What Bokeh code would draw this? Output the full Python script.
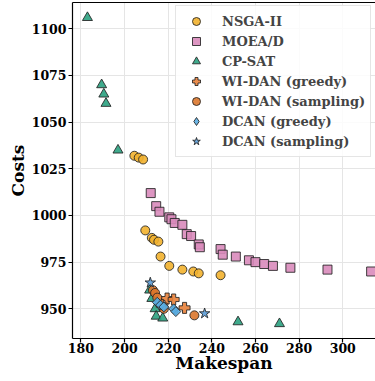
import numpy as np
from bokeh.plotting import figure
from bokeh.models import Range1d, SingleIntervalTicker, LinearAxis, FixedTicker, Legend, LegendItem
from bokeh.embed import file_html
from bokeh.resources import INLINE

# ---- data ----
nsga_x = [204.5, 206.5, 208.5, 209.5, 212.5, 213.5, 215.5, 216.5, 220.5, 226.5, 231.5, 234, 244]
nsga_y = [1032, 1031, 1030, 992, 988, 987, 986, 978, 973, 971, 970, 969, 968]

moead_x = [212, 214.5, 216, 220.5, 221.5, 223, 226.5, 228.5, 230.5, 234, 234.5, 244, 245,
           251, 257, 260, 264, 268, 276, 293, 313]
moead_y = [1012, 1005, 1002, 999, 998, 996, 995, 990, 989, 984.5, 983, 982, 979,
           978, 976, 975, 974, 973, 972, 971, 970]

cpsat_x = [183, 189.5, 190.5, 191.5, 197, 211.5, 212.5, 214, 214.5, 217.5, 252, 271]
cpsat_y = [1106, 1070, 1065, 1060, 1035, 960, 955.5, 950, 946, 945, 943, 942]

widan_g_x = [219.5, 222.5, 227.5, 217]
widan_g_y = [955.5, 955, 950.5, 952]

widan_s_x = [213, 214, 215, 218, 232]
widan_s_y = [960, 958.5, 956, 950, 946.5]

dcan_g_x = [215, 216.5, 218, 222.5, 223.5]
dcan_g_y = [953.5, 952, 951, 950, 948.5]

dcan_s_x = [211.8, 236.7]
dcan_s_y = [964, 947.5]

series = [
    ("NSGA-II", nsga_x, nsga_y, "circle", 9, "#F2B12E", 0),
    ("MOEA/D", moead_x, moead_y, "square", 9, "#D98BBB", 0),
    ("CP-SAT", cpsat_x, cpsat_y, "triangle", 10, "#2AA17F", 0),
    ("WI-DAN (greedy)", widan_g_x, widan_g_y, "plus", 11, "#E8813A", 0),
    ("WI-DAN (sampling)", widan_s_x, widan_s_y, "circle", 9, "#DC772C", 0),
    ("DCAN (greedy)", dcan_g_x, dcan_g_y, "square", 7, "#5BAEE3", np.pi / 4),
    ("DCAN (sampling)", dcan_s_x, dcan_s_y, "star", 11, "#5B9BD5", 0),
]

FONT = "DejaVu Serif"

p = figure(width=375, height=381, output_backend="svg", toolbar_location=None,
           x_range=Range1d(176.15, 315.0), y_range=Range1d(934.1, 1114.1),
           min_border_left=72, min_border_right=0, min_border_top=2, min_border_bottom=43)
p.outline_line_color = None
p.background_fill_color = "white"

items = []
for name, xs, ys, marker, size, color, ang in series:
    style = dict(fill_color=color, fill_alpha=0.9,
                 line_color="#222222", line_alpha=0.85, line_width=1)
    legend_r = None
    if ang != 0:
        # diamond-shaped twin, drawn underneath (hidden by the rotated squares),
        # used only so the legend shows a diamond
        legend_r = p.scatter(xs, ys, marker="diamond", size=size, **style)
    r = p.scatter(xs, ys, marker=marker, size=size, angle=ang, **style)
    items.append(LegendItem(label=name, renderers=[legend_r or r]))

p.xaxis.ticker = SingleIntervalTicker(interval=20)
p.yaxis.ticker = SingleIntervalTicker(interval=25)
for ax in (p.xaxis[0], p.yaxis[0]):
    ax.axis_line_color = "black"
    ax.axis_line_width = 1.2
    ax.major_tick_line_color = "black"
    ax.major_tick_line_width = 1.2
    ax.major_tick_out = 4
    ax.major_tick_in = 0
    ax.minor_tick_line_color = None
    ax.major_label_text_font = FONT
    ax.major_label_text_font_style = "bold"
    ax.major_label_text_font_size = "12.5px"
    ax.major_label_text_color = "black"
    ax.major_label_standoff = 2
    ax.axis_label_text_font = FONT
    ax.axis_label_text_font_style = "bold"
    ax.axis_label_text_font_size = "17px"
    ax.axis_label_text_color = "black"
p.xaxis.axis_label = "Makespan"
p.yaxis.axis_label = "Costs"
p.xaxis.major_label_standoff = 0
p.xaxis.axis_label_standoff = -3
p.yaxis.axis_label_standoff = 1

top = LinearAxis(ticker=FixedTicker(ticks=[]), major_label_text_font_size="0px",
                 major_tick_line_color=None, minor_tick_line_color=None,
                 major_label_standoff=0, major_tick_out=0,
                 axis_line_color="black", axis_line_width=1.2)
p.add_layout(top, "above")

p.xgrid.grid_line_color = "#e5e5e5"
p.ygrid.grid_line_color = "#e5e5e5"
p.xgrid.grid_line_width = 1
p.ygrid.grid_line_width = 1

legend = Legend(items=items, location=(103, 181))
legend.label_text_font = FONT
legend.label_text_font_style = "bold"
legend.label_text_font_size = "13px"
legend.label_height = 20
legend.glyph_height = 20
legend.glyph_width = 30
legend.label_standoff = 11
legend.spacing = 0
legend.padding = 5
legend.margin = 0
legend.border_line_color = "#cccccc"
legend.border_line_width = 1
legend.background_fill_alpha = 0.85
p.add_layout(legend, "center")

open("out.html", "w").write(file_html(p, INLINE))
